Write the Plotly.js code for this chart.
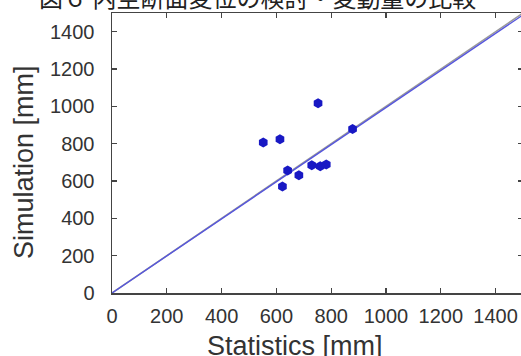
<!DOCTYPE html>
<html>
<head>
<meta charset="utf-8">
<script src="https://cdn.plot.ly/plotly-3.0.1.min.js"></script>
<style>html,body{margin:0;padding:0;overflow:hidden;background:#fff;}</style>
</head>
<body>
<div id="chart" style="width:525px;height:356px;"></div>
<script>
const statistics = [552, 613, 752, 878, 641, 682, 622, 729, 760, 782];
const simulation = [806, 824, 1016, 879, 656, 631, 571, 685, 679, 688];
const lineX = [0, 1500];
const lineEqual = [0, 1500];
const lineFit = [0, 1490];
const xTicks = [0, 200, 400, 600, 800, 1000, 1200, 1400];
const yTicks = [0, 200, 400, 600, 800, 1000, 1200, 1400];
const titleText = "図６ 内空断面変位の検討・変動量の比較";
const xTitle = "Statistics [mm]";
const yTitle = "Simulation [mm]";

const traces = [
  {x: lineX, y: lineEqual, mode: 'lines', line: {color: '#9a9a9a', width: 1.6}, hoverinfo: 'skip'},
  {x: lineX, y: lineFit, mode: 'lines', line: {color: '#5555dd', width: 1.4}, hoverinfo: 'skip'},
  {x: statistics, y: simulation, mode: 'markers',
   marker: {symbol: 'hexagon', size: 10, color: '#1818c4', line: {width: 0}}}
];

const axisCommon = {
  range: [0, 1500], showgrid: false, zeroline: false,
  showline: true, linecolor: '#444', linewidth: 1.5, mirror: 'ticks',
  ticks: 'inside', ticklen: 5, tickcolor: '#444', tickwidth: 1.2,
  tickfont: {family: 'Liberation Sans, Arial, sans-serif', size: 20, color: '#333'}
};

const layout = {
  width: 525, height: 356,
  margin: {l: 112, r: 2, t: 13, b: 63},
  showlegend: false,
  paper_bgcolor: '#fff', plot_bgcolor: '#fff',
  xaxis: Object.assign({}, axisCommon, {tickvals: xTicks, ticktext: xTicks.map(String), ticklabelstandoff: 4}),
  yaxis: Object.assign({}, axisCommon, {tickvals: yTicks, ticktext: yTicks.map(String), ticklabelstandoff: 12}),
  annotations: [
    {text: xTitle, xref: 'paper', yref: 'paper', x: 0.446, y: 0, yshift: -53,
     xanchor: 'center', yanchor: 'middle', showarrow: false,
     font: {family: 'Liberation Sans, Arial, sans-serif', size: 27, color: '#333'}},
    {text: yTitle, xref: 'paper', yref: 'paper', x: 0, xshift: -88, y: 0.468,
     xanchor: 'center', yanchor: 'middle', textangle: -90, showarrow: false,
     font: {family: 'Liberation Sans, Arial, sans-serif', size: 27, color: '#333'}},
    {text: titleText, xref: 'paper', yref: 'paper', x: 0.353, y: 1, yshift: 17,
     xanchor: 'center', yanchor: 'middle', showarrow: false,
     font: {family: 'Noto Sans CJK JP, sans-serif', size: 24, color: '#222'}}
  ]
};

Plotly.newPlot('chart', traces, layout, {displayModeBar: false, staticPlot: true});
</script>
</body>
</html>
